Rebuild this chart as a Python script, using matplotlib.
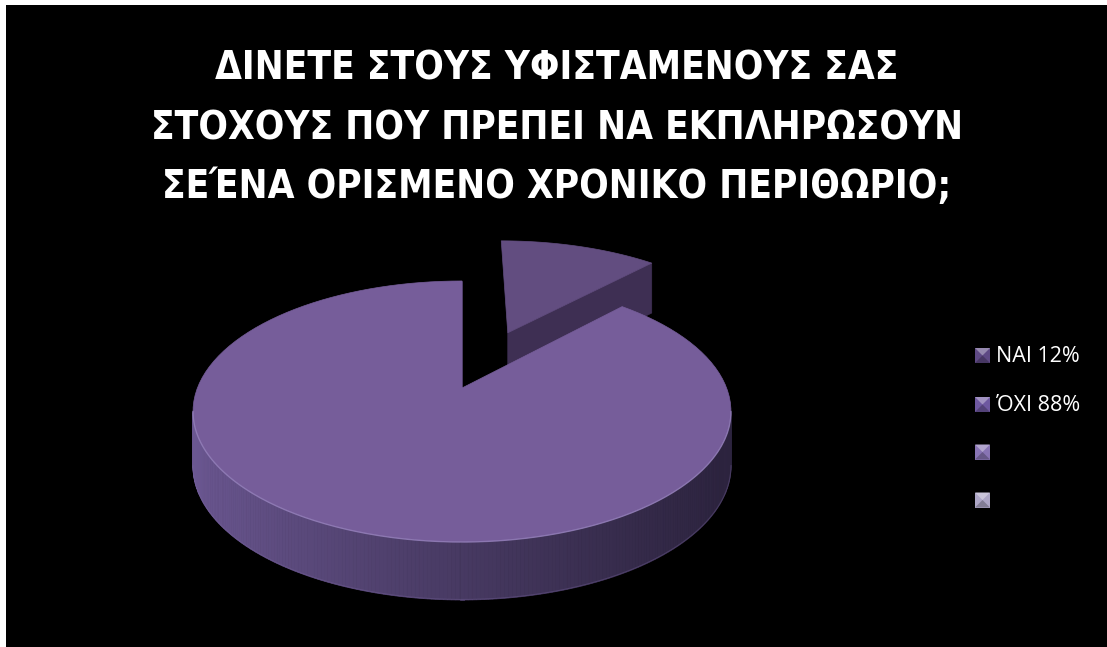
import numpy as np
import matplotlib
matplotlib.use("Agg")
import matplotlib.pyplot as plt
from matplotlib import font_manager as fm
from matplotlib.patches import Polygon, Rectangle
from matplotlib.colors import to_rgb

# ---- data -------------------------------------------------------------
title_lines = [
    "ΔΙΝΕΤΕ ΣΤΟΥΣ ΥΦΙΣΤΑΜΕΝΟΥΣ ΣΑΣ",
    "ΣΤΟΧΟΥΣ ΠΟΥ ΠΡΕΠΕΙ ΝΑ ΕΚΠΛΗΡΩΣΟΥΝ",
    "ΣΕΈΝΑ ΟΡΙΣΜΕΝΟ ΧΡΟΝΙΚΟ ΠΕΡΙΘΩΡΙΟ;",
]
categories = ["ΝΑΙ", "ΌΧΙ", "", ""]
values = [12, 88, 0, 0]
legend_labels = ["ΝΑΙ 12%", "ΌΧΙ 88%", "", ""]
explode = [0.51, 0.0, 0.0, 0.0]

# ---- styling ----------------------------------------------------------
top_colors = ["#624D80", "#765D9A", "#8A78B4", "#ADA6C4"]
cut_colors = ["#3E2F53", "#3A2D4E", "#4A3D66", "#6E6888"]
marker_colors = ["#5E4984", "#6E58A0", "#8874B4", "#ADA6C6"]
side_light = np.array(to_rgb("#6C5893"))
side_dark = np.array(to_rgb("#2C233E"))


def pick_title_font():
    """Prefer a narrow bold face with Greek glyphs for the headline."""
    prefs = ["LiberationSansNarrow-Bold", "DejaVuSansCondensed-Bold",
             "RobotoCondensed-Bold", "OpenSansCondensed-Bold",
             "NotoSans-CondensedBold", "NotoSansDisplay-CondensedBold",
             "OpenSans-CondensedBold", "Roboto-Bold"]
    files = fm.findSystemFonts() + [f.fname for f in fm.fontManager.ttflist]
    for p in prefs:
        for f in files:
            base = f.rsplit("/", 1)[-1].rsplit(".", 1)[0]
            if base.replace(" ", "") == p:
                return fm.FontProperties(fname=f)
    return fm.FontProperties(family=["Open Sans", "DejaVu Sans"], weight="bold")


W, H = 1107, 647
fig = plt.figure(figsize=(W / 100, H / 100), dpi=100, facecolor="white")
ax = fig.add_axes([0, 0, 1, 1])
ax.set_xlim(0, W)
ax.set_ylim(H, 0)
ax.axis("off")
ax.add_patch(Rectangle((6, 5), W, H, facecolor="black", edgecolor="none", zorder=0))

# ---- perspective pie geometry ----------------------------------------
CX, CY = 462.0, 388.0         # screen position of the pie centre
A, B, C = 264.6, 126.3, 0.18  # horizontal / vertical radius, perspective
D0, DK = 54.0, 0.068          # thickness and its perspective falloff


def proj(u, v):
    s = 1.0 + C * v
    return CX + A * u / s, CY - B * v / s


def depth(v):
    return D0 / (1.0 + DK * v)


def arc(t1, t2, du, dv, n=120):
    t = np.radians(np.linspace(t1, t2, n))
    return np.cos(t) + du, np.sin(t) + dv


total = float(sum(values))
fracs = [v / total for v in values]
slices = []
cum = 0.0
for i, f in enumerate(fracs):
    if f <= 0:
        continue
    start = 90.0 - cum * 360.0          # clockwise from 12 o'clock
    end = 90.0 - (cum + f) * 360.0
    cum += f
    mid = np.radians((start + end) / 2.0)
    du, dv = explode[i] * np.cos(mid), explode[i] * np.sin(mid)
    slices.append((i, end, start, du, dv))

# silhouette angles of the cylinder wall
t_left = 180.0 + np.degrees(np.arcsin(C))
t_right = 360.0 - np.degrees(np.arcsin(C))


def draw_cut_face(theta, du, dv, color, z):
    t = np.radians(theta)
    x0, y0 = proj(du, dv)
    v1 = np.sin(t) + dv
    x1, y1 = proj(np.cos(t) + du, v1)
    pts = [(x0, y0), (x1, y1), (x1, y1 + depth(v1)), (x0, y0 + depth(dv))]
    ax.add_patch(Polygon(pts, closed=True, facecolor=color, edgecolor=color,
                         linewidth=0.5, zorder=z))


def draw_top(t1, t2, du, dv, color, z):
    u, v = arc(t1, t2, du, dv)
    x, y = proj(u, v)
    ax0, ay0 = proj(du, dv)
    pts = [(ax0, ay0)] + list(zip(x, y))
    ax.add_patch(Polygon(pts, closed=True, facecolor=color, edgecolor=color,
                         linewidth=0.5, zorder=z))


def draw_wall(t1, t2, du, dv, z):
    for k in (-360.0, 0.0, 360.0):
        a, b = max(t1, t_left + k), min(t2, t_right + k)
        if b <= a:
            continue
        u, v = arc(a, b, du, dv, n=220)
        xs, ys = proj(u, v)
        dep = np.array([depth(q) for q in v])
        xmin, xmax = CX - A * 1.02, CX + A * 1.02
        for j in range(len(xs) - 1):
            fx = np.clip(((xs[j] + xs[j + 1]) / 2 - xmin) / (xmax - xmin), 0, 1) ** 0.8
            col = side_light * (1 - fx) + side_dark * fx
            quad = [(xs[j], ys[j]), (xs[j + 1], ys[j + 1]),
                    (xs[j + 1], ys[j + 1] + dep[j + 1]), (xs[j], ys[j] + dep[j])]
            ax.add_patch(Polygon(quad, closed=True, facecolor=col, edgecolor=col,
                                 linewidth=0.6, zorder=z))
        ax.plot(xs, ys + dep - 0.5, color="#7A66A0", lw=0.8, alpha=0.35,
                zorder=z + 0.1)
        # highlight along the front rim of the top face
        ax.plot(xs, ys, color="#A593CC", lw=1.0, alpha=0.55, zorder=z + 1.2)


# exploded back slice first, then the large front slice
order = sorted(slices, key=lambda s: -s[4])
for rank, (i, t1, t2, du, dv) in enumerate(order):
    z = 2 + rank * 3
    draw_cut_face(t1, du, dv, cut_colors[i], z)
    draw_wall(t1, t2, du, dv, z + 0.5)
    draw_top(t1, t2, du, dv, top_colors[i], z + 1)

# ---- title -------------------------------------------------------------
tprop = pick_title_font()
baselines = [80, 139, 198]
texts = []
for line, yb in zip(title_lines, baselines):
    texts.append(ax.text(557, yb, line, color="white", fontproperties=tprop,
                         fontsize=30, fontweight="bold",
                         ha="center", va="baseline", zorder=10))
fig.canvas.draw()
rend = fig.canvas.get_renderer()
w2 = texts[1].get_window_extent(rend).width
size = 30 * 809.0 / w2
for t in texts:
    t.set_fontsize(size)

# ---- legend ------------------------------------------------------------
leg_y = [355.5, 404.5, 452.0, 500.0]
msz = 15.0
for lab, col, yc in zip(legend_labels, marker_colors, leg_y):
    x0, y0 = 975.0, yc - msz / 2
    base = np.array(to_rgb(col))
    light = base + (1 - base) * 0.35
    dark = base * 0.75
    ax.add_patch(Rectangle((x0, y0), msz, msz, facecolor=col, edgecolor="none", zorder=10))
    cx, cy = x0 + msz / 2, y0 + msz / 2
    ax.add_patch(Polygon([(x0, y0), (x0 + msz, y0), (cx, cy)], closed=True,
                         facecolor=light, edgecolor="none", zorder=11))
    ax.add_patch(Polygon([(x0, y0 + msz), (x0 + msz, y0 + msz), (cx, cy)], closed=True,
                         facecolor=dark, edgecolor="none", zorder=11))
    if lab:
        ax.text(996, yc + 1, lab, color="white", fontsize=15.5,
                family=["Open Sans", "DejaVu Sans"], ha="left", va="center", zorder=10)

fig.savefig("out.png", dpi=100, facecolor=fig.get_facecolor())
